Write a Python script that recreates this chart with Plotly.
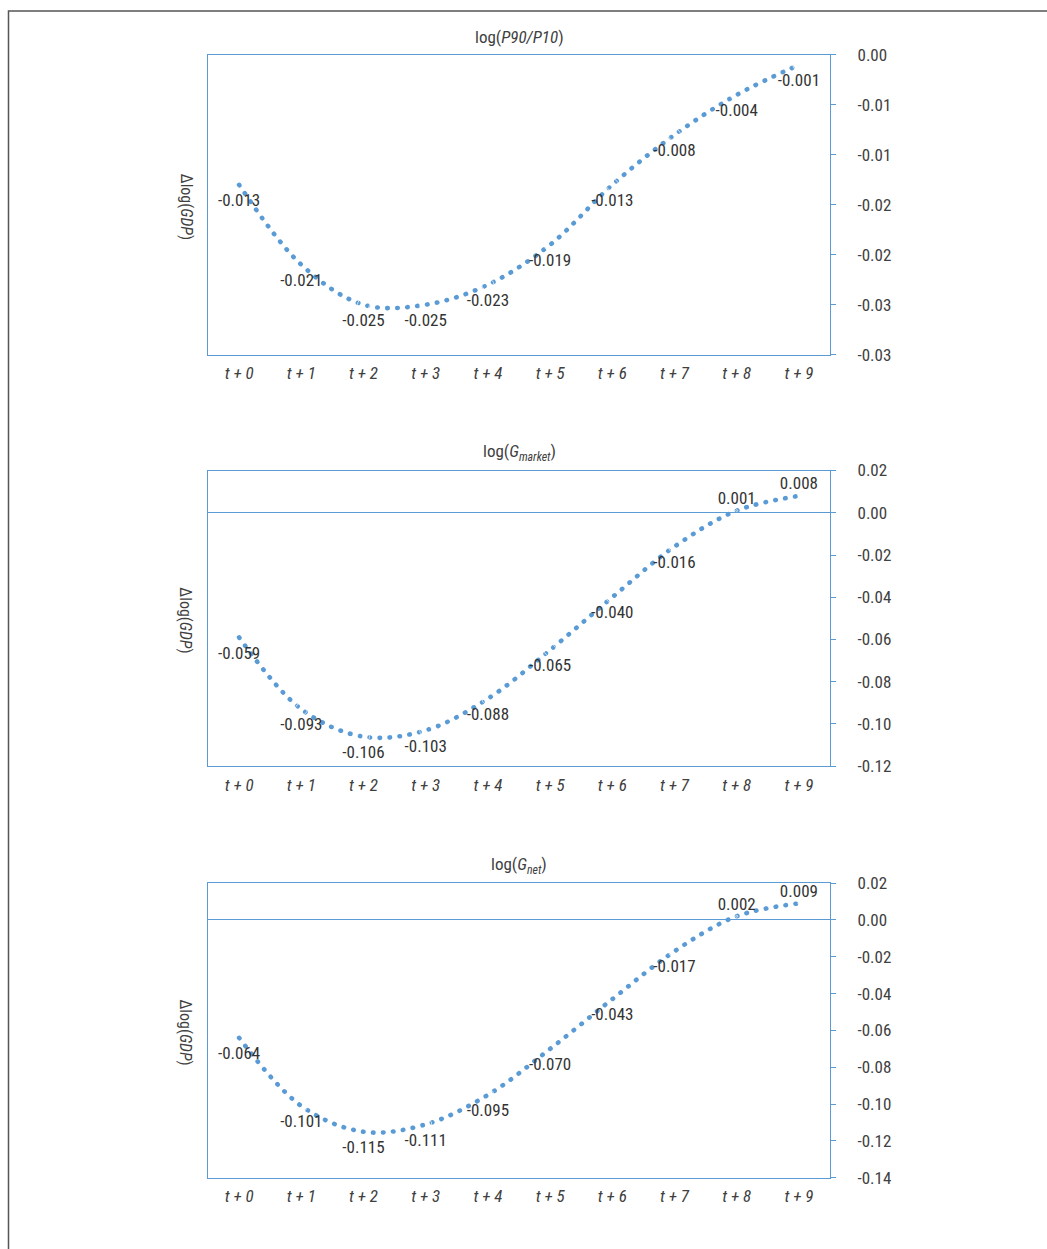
import plotly.graph_objects as go

# ---- data ----
periods = ["t + 0", "t + 1", "t + 2", "t + 3", "t + 4", "t + 5", "t + 6", "t + 7", "t + 8", "t + 9"]
p90_p10 = [-0.013, -0.021, -0.025, -0.025, -0.023, -0.019, -0.013, -0.008, -0.004, -0.001]
g_market = [-0.059, -0.093, -0.106, -0.103, -0.088, -0.065, -0.040, -0.016, 0.001, 0.008]
g_net = [-0.064, -0.101, -0.115, -0.111, -0.095, -0.070, -0.043, -0.017, 0.002, 0.009]

p90_tickvals = [0.0, -0.005, -0.010, -0.015, -0.020, -0.025, -0.030]
p90_ticktext = ["0.00", "-0.01", "-0.01", "-0.02", "-0.02", "-0.03", "-0.03"]
market_tickvals = [0.02, 0.0, -0.02, -0.04, -0.06, -0.08, -0.10, -0.12]
market_ticktext = ["0.02", "0.00", "-0.02", "-0.04", "-0.06", "-0.08", "-0.10", "-0.12"]
net_tickvals = [0.02, 0.0, -0.02, -0.04, -0.06, -0.08, -0.10, -0.12, -0.14]
net_ticktext = ["0.02", "0.00", "-0.02", "-0.04", "-0.06", "-0.08", "-0.10", "-0.12", "-0.14"]

panel_titles = ["log(<i>P90/P10</i>)",
                "log(<i>G<sub>market</sub></i>)",
                "log(<i>G<sub>net</sub></i>)"]
y_title = "Δlog(<i>GDP</i>)"
y_ranges = [[-0.03, 0.0], [-0.12, 0.02], [-0.14, 0.02]]
series = [p90_p10, g_market, g_net]
tickvals_all = [p90_tickvals, market_tickvals, net_tickvals]
ticktext_all = [p90_ticktext, market_ticktext, net_ticktext]

# ---- layout constants (pixels, as seen on the page) ----
W, H = 1047, 1249
OFF_Y, K_Y = 9, 0.985  # observed page offset / vertical scale of the rendered figure
px_left, px_right = 208, 830
panels_px = [(54, 354), (470, 766), (883, 1178)]

FONT = "Liberation Sans Narrow, Arial Narrow, Roboto Condensed, Roboto, sans-serif"
BLUE = "#5b9bd5"
TXT = "#404040"


def py(v):
    return 1 - ((v - OFF_Y) / K_Y) / H


fig = go.Figure()
layout = dict(
    width=W, height=H,
    margin=dict(l=0, r=0, t=0, b=0),
    paper_bgcolor="white", plot_bgcolor="white",
    showlegend=False,
    font=dict(family=FONT, color=TXT, size=16),
    annotations=[], shapes=[],
)

for i, (vals, title, yr, tv, tt) in enumerate(zip(series, panel_titles, y_ranges, tickvals_all, ticktext_all)):
    n = "" if i == 0 else str(i + 1)
    xa, ya = "x" + n, "y" + n
    top, bot = panels_px[i]
    fig.add_trace(go.Scatter(
        x=periods, y=vals, mode="lines", xaxis=xa, yaxis=ya,
        line=dict(color=BLUE, width=4.6, dash="0.5px,9.5px", shape="spline", smoothing=1.0),
        hoverinfo="skip",
    ))
    fig.add_trace(go.Scatter(
        x=periods, y=vals, mode="markers+text", xaxis=xa, yaxis=ya,
        marker=dict(size=[2 if v > 0 else 12 for v in vals], color="rgba(0,0,0,0)"),
        text=[f"{v:.3f}" for v in vals],
        textposition=["top center" if v > 0 else "bottom center" for v in vals],
        textfont=dict(family=FONT, size=17, color="#333333"),
        cliponaxis=False,
        hoverinfo="skip",
    ))
    layout["xaxis" + n] = dict(
        domain=[px_left / W, px_right / W], anchor=ya,
        type="category", range=[-0.5, len(periods) - 0.5], autorange=False,
        showline=True, mirror=True, linecolor=BLUE, linewidth=1,
        ticks="", showgrid=False, zeroline=False,
        tickmode="array", tickvals=periods, ticktext=[f"<i>{p}</i>" for p in periods],
        tickfont=dict(family=FONT, size=17, color=TXT),
        ticklabelstandoff=3,
    )
    layout["yaxis" + n] = dict(
        domain=[py(bot), py(top)], anchor=xa, side="right",
        range=yr, autorange=False, tickmode="array", tickvals=tv, ticktext=tt,
        showline=True, mirror=True, linecolor=BLUE, linewidth=1.2,
        ticks="outside", ticklen=5, tickcolor=BLUE,
        showgrid=False, zeroline=True, zerolinecolor=BLUE, zerolinewidth=1,
        tickfont=dict(family=FONT, size=17, color=TXT),
        ticklabelstandoff=18,
    )
    layout["annotations"].append(dict(
        text=title, xref="paper", yref="paper",
        x=(px_left + px_right) / 2 / W, y=py(top - 18),
        showarrow=False, font=dict(family=FONT, size=17, color=TXT),
        xanchor="center", yanchor="middle",
    ))
    layout["annotations"].append(dict(
        text=y_title, xref="paper", yref="paper",
        x=186 / W, y=py((top + bot) / 2 + 2), textangle=90,
        showarrow=False, font=dict(family=FONT, size=16, color=TXT),
        xanchor="center", yanchor="middle",
    ))

# outer frame (top and left edges visible)
layout["shapes"].append(dict(
    type="rect", xref="paper", yref="paper",
    x0=8.5 / W, x1=1.2, y0=-0.2, y1=py(10),
    line=dict(color="#555555", width=1.5), fillcolor="rgba(0,0,0,0)",
))

fig.update_layout(**layout)

post_js = """
document.documentElement.style.margin='0';
document.body.style.margin='0';
document.body.style.padding='0';
var gd=document.getElementById('{plot_id}');
gd.style.position='absolute';gd.style.left='0px';gd.style.top='0px';
gd.querySelectorAll('path.js-line').forEach(function(p){p.style.strokeLinecap='round';});
"""
fig.write_html("out.html", post_script=post_js, config={"displayModeBar": False})
